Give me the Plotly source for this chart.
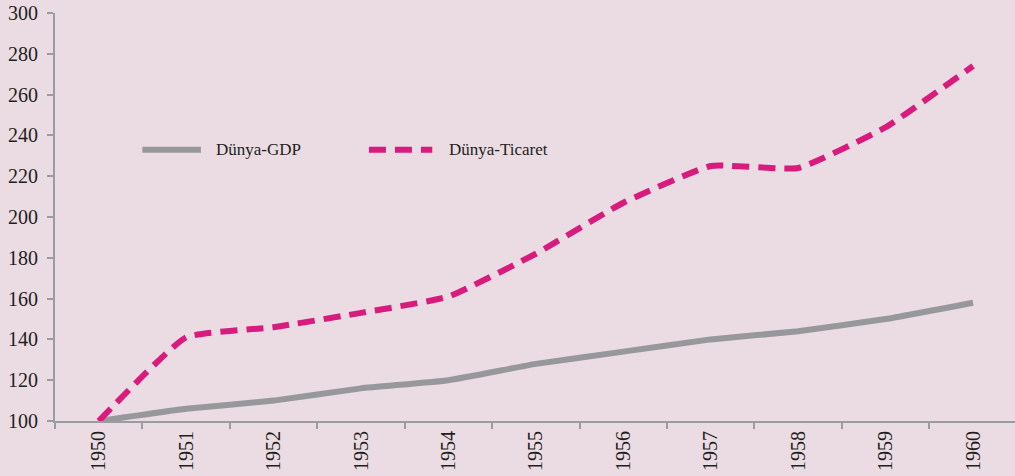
import plotly.graph_objects as go

years = ["1950", "1951", "1952", "1953", "1954", "1955", "1956", "1957", "1958", "1959", "1960"]
gdp = [100, 106, 110, 116, 120, 128, 134, 140, 144, 150, 158]
trade = [100, 141, 146, 153, 161, 182, 207, 225, 224, 244, 274]
y_ticks = [100, 120, 140, 160, 180, 200, 220, 240, 260, 280, 300]
series_names = ["Dünya-GDP", "Dünya-Ticaret"]

BG = "#ebdbe3"
AX = "#9a9ca1"
GRAY = "#96989c"
PINK = "#d81b7c"
FONT = "Liberation Serif"
TXT = "#231f20"
DASH = "17px,9px"

fig = go.Figure()
fig.add_trace(go.Scatter(
    x=years, y=gdp, name=series_names[0], mode="lines",
    line=dict(color=GRAY, width=6, shape="spline", smoothing=0.4),
))
fig.add_trace(go.Scatter(
    x=years, y=trade, name=series_names[1], mode="lines",
    line=dict(color=PINK, width=6, dash=DASH, shape="spline", smoothing=0.4),
))

# legend drawn as shapes + text (longer symbols than plotly's built-in legend)
legend_y = 233
legend_items = [
    (0.091, 0.152, 0.166, GRAY, "solid"),
    (0.327, 0.393, 0.408, PINK, DASH),
]
for (x0, x1, xt, col, dash), name in zip(legend_items, series_names):
    fig.add_shape(type="line", xref="paper", yref="y", x0=x0, x1=x1,
                  y0=legend_y, y1=legend_y, line=dict(color=col, width=6, dash=dash))
    fig.add_annotation(xref="paper", yref="y", x=xt, y=legend_y, text=name,
                       showarrow=False, xanchor="left", yanchor="middle",
                       font=dict(size=17, family=FONT, color=TXT))

fig.update_layout(
    width=1015, height=476,
    margin=dict(l=55, r=0, t=13, b=55),
    paper_bgcolor=BG, plot_bgcolor=BG,
    font=dict(family=FONT, color=TXT),
    showlegend=False,
    xaxis=dict(
        type="category", range=[-0.5, 10.48], automargin=False,
        tickson="boundaries", ticks="outside", ticklen=6, tickwidth=2, tickcolor=AX,
        showline=True, linecolor=AX, linewidth=2,
        showgrid=False, zeroline=False,
        tickangle=-90, tickfont=dict(size=20, family=FONT, color=TXT),
    ),
    yaxis=dict(
        range=[100, 300], tickvals=y_ticks, automargin=False,
        ticks="outside", ticklen=6, tickwidth=2, tickcolor=AX,
        ticklabelstandoff=5,
        showline=True, linecolor=AX, linewidth=2,
        showgrid=False, zeroline=False,
        tickfont=dict(size=20, family=FONT, color=TXT),
    ),
)

fig.write_html(
    "out.html",
    config={"displayModeBar": False},
    post_script="document.body.style.margin='0';document.body.style.padding='0';"
                "document.body.style.background='" + BG + "';",
)
